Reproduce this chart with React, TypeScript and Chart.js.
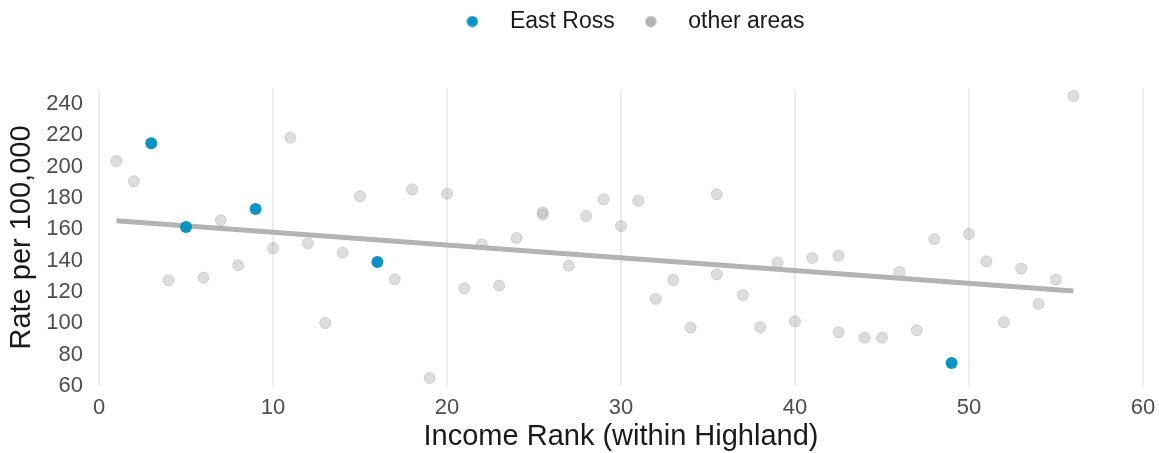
import React, { useEffect, useRef } from 'react';
import { Chart, registerables } from 'chart.js';

Chart.register(...registerables);

// ---- data ----
const eastRossRank = [3, 5, 9, 16, 49];
const eastRossRate = [214.9, 161.5, 173, 139.2, 74.7];

const otherRank = [
  1, 2, 4, 6, 7, 8, 10, 11, 12, 13, 14, 15, 17, 18, 19, 20, 21, 22, 23, 24,
  25.5, 25.5, 27, 28, 29, 30, 31, 32, 33, 34, 35.5, 35.5, 37, 38, 39, 40, 41,
  42.5, 42.5, 44, 45, 46, 47, 48, 50, 51, 52, 53, 54, 55, 56,
];
const otherRate = [
  203.6, 190.7, 127.5, 129.2, 165.8, 137.1, 147.9, 218.5, 151.1, 100.2, 145.1,
  181.1, 128.1, 185.5, 65.1, 182.8, 122.4, 150.5, 124.1, 154.5, 170.9, 169.4,
  136.8, 168.5, 179.2, 162.1, 178.3, 115.6, 127.7, 97.3, 182.4, 131.3, 118.1,
  97.5, 138.8, 101.3, 141.7, 143.2, 94.3, 90.9, 90.9, 132.8, 95.6, 153.8, 157,
  139.6, 100.7, 134.9, 112.4, 127.9, 245.1,
];

const trendRank = [1, 56];
const trendRate = [165.5, 120.7];

const xTickMin = 0;
const xTickMax = 60;
const xTickStep = 10;
const yTickMin = 60;
const yTickMax = 249.6;
const yTickStep = 20;

const seriesLabels = ['East Ross', 'other areas'];
const xTitle = 'Income Rank (within Highland)';
const yTitle = 'Rate per 100,000';

// ---- styles ----
const BLUE = '#0b93c4';
const GREY = '#b3b3b3';
const FONT = '"Liberation Sans", Arial, Helvetica, sans-serif';

function makeDot(color: string): HTMLCanvasElement {
  const c = document.createElement('canvas');
  c.width = 12;
  c.height = 12;
  const g = c.getContext('2d')!;
  g.fillStyle = color;
  g.beginPath();
  g.arc(6, 6, 5.6, 0, Math.PI * 2);
  g.fill();
  return c;
}

const layoutHack = {
  id: 'layoutHack',
  beforeLayout(chart: any) {
    const lg = chart.legend;
    if (lg && !lg.__patched) {
      const fit = lg.fit;
      lg.fit = function () {
        fit.call(this);
        this.height = 89;
      };
      lg.__patched = true;
    }
  },
  afterLayout(chart: any) {
    const lg = chart.legend;
    if (lg) {
      lg.left += 54;
      lg.right += 54;
    }
  },
};

export default function App() {
  const ref = useRef<HTMLCanvasElement>(null);

  useEffect(() => {
    document.body.style.margin = '0';
    const dots: Record<number, HTMLCanvasElement> = {
      0: makeDot(BLUE),
      2: makeDot(GREY),
    };
    const chart = new Chart(ref.current!, {
      type: 'scatter',
      data: {
        datasets: [
          {
            label: seriesLabels[0],
            data: eastRossRank.map((x, i) => ({ x, y: eastRossRate[i] })),
            backgroundColor: BLUE,
            borderColor: BLUE,
            borderWidth: 0,
            pointRadius: 6,
          },
          {
            label: 'trend',
            data: trendRank.map((x, i) => ({ x, y: trendRate[i] })),
            showLine: true,
            borderColor: GREY,
            borderWidth: 5,
            pointRadius: 0,
            fill: false,
          } as any,
          {
            label: seriesLabels[1],
            data: otherRank.map((x, i) => ({ x, y: otherRate[i] })),
            backgroundColor: 'rgba(179,179,179,0.45)',
            borderColor: 'rgba(150,150,150,0.35)',
            borderWidth: 1,
            pointRadius: 5.5,
          },
        ],
      },
      options: {
        responsive: false,
        animation: false,
        devicePixelRatio: 1,
        layout: { padding: { left: 0, right: 16, top: 0, bottom: 0 } },
        plugins: {
          tooltip: { enabled: false },
          legend: {
            position: 'top',
            labels: {
              usePointStyle: true,
              pointStyleWidth: 52,
              padding: 10,
              color: '#1a1a1a',
              font: { size: 23, family: FONT },
              generateLabels(ch: any) {
                const items = Chart.defaults.plugins.legend.labels.generateLabels(ch);
                return items
                  .filter((it: any) => it.datasetIndex !== 1)
                  .map((it: any) => ({ ...it, pointStyle: dots[it.datasetIndex] }));
              },
            },
          },
        },
        scales: {
          x: {
            type: 'linear',
            min: xTickMin,
            max: xTickMax,
            border: { display: false },
            grid: { color: '#ebebeb', lineWidth: 2, drawTicks: false },
            ticks: {
              stepSize: xTickStep,
              color: '#4d4d4d',
              padding: 9,
              font: { size: 22, family: FONT },
            },
            title: {
              display: true,
              text: xTitle,
              color: '#1a1a1a',
              font: { size: 29, family: FONT },
              padding: { top: 0, bottom: -1 },
            },
            afterFit(s: any) {
              s.height = 67;
              s.paddingRight = 0;
              s.paddingLeft = 0;
            },
          },
          y: {
            type: 'linear',
            min: yTickMin,
            max: yTickMax,
            border: { display: false },
            grid: { display: false, drawTicks: false },
            ticks: {
              stepSize: yTickStep,
              includeBounds: false,
              color: '#4d4d4d',
              padding: 16,
              font: { size: 22, family: FONT },
            },
            title: {
              display: true,
              text: yTitle,
              color: '#1a1a1a',
              font: { size: 29, family: FONT },
              padding: { top: 5, bottom: 0 },
            },
            afterFit(s: any) {
              s.width = 99;
            },
          },
        },
      },
      plugins: [layoutHack],
    });
    return () => chart.destroy();
  }, []);

  return <canvas ref={ref} width={1159} height={453} style={{ display: 'block' }} />;
}
